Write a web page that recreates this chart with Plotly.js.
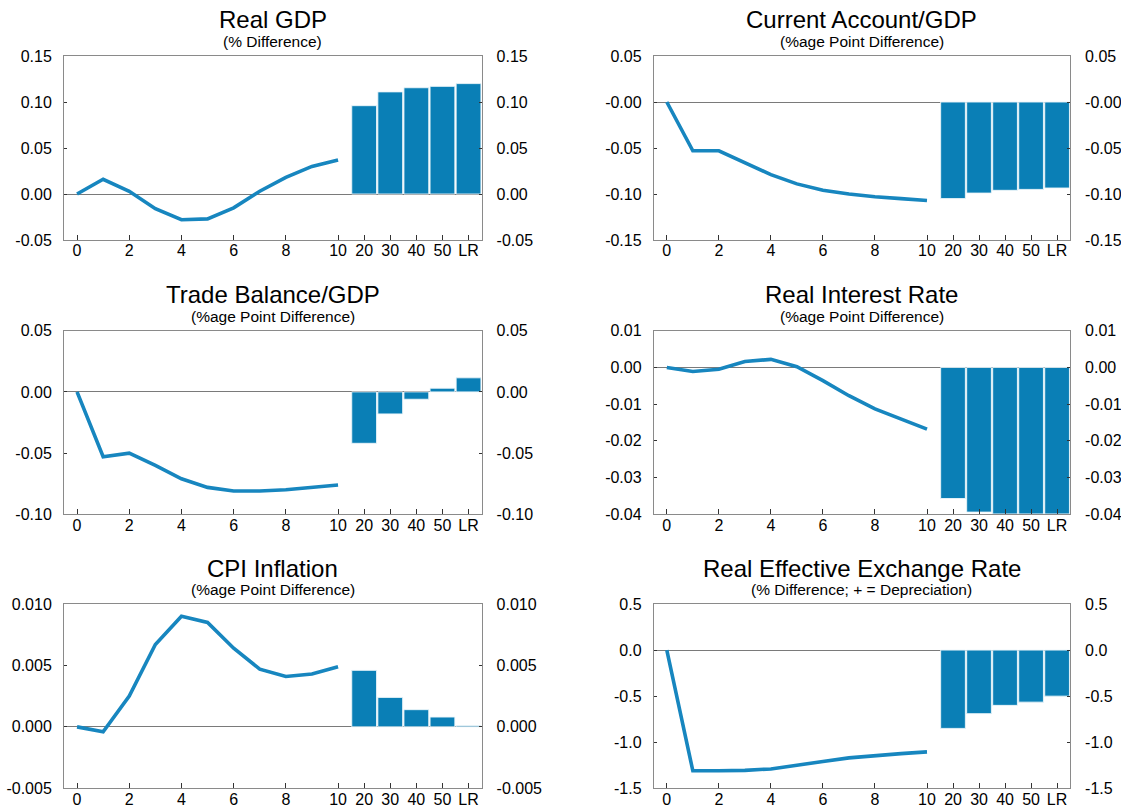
<!DOCTYPE html>
<html>
<head>
<meta charset="utf-8">
<script src="https://cdn.plot.ly/plotly-3.0.1.min.js"></script>
<style>
  html, body { margin: 0; padding: 0; background: #ffffff; }
  #chart { width: 1121px; height: 809px; }
</style>
</head>
<body>
<div id="chart"></div>
<script>
// ---------------- DATA ----------------
const quarters = [0, 1, 2, 3, 4, 5, 6, 7, 8, 9, 10];
const horizonLabels = ['20', '30', '40', '50', 'LR'];
const xTickLabels = ['0', '2', '4', '6', '8', '10', '20', '30', '40', '50', 'LR'];

const panelTitles = ['Real GDP', 'Current Account/GDP', 'Trade Balance/GDP',
                     'Real Interest Rate', 'CPI Inflation', 'Real Effective Exchange Rate'];
const panelSubtitles = ['(% Difference)', '(%age Point Difference)', '(%age Point Difference)',
                        '(%age Point Difference)', '(%age Point Difference)',
                        '(% Difference; + = Depreciation)'];

const realGdpLine = [0.000, 0.016, 0.003, -0.016, -0.028, -0.027, -0.015, 0.003, 0.018, 0.030, 0.037];
const realGdpBars = [0.096, 0.111, 0.1155, 0.117, 0.120];

const currentAccountLine = [0.000, -0.053, -0.053, -0.066, -0.079, -0.089, -0.096, -0.100, -0.103, -0.105, -0.107];
const currentAccountBars = [-0.105, -0.099, -0.096, -0.095, -0.0935];

const tradeBalanceLine = [0.000, -0.053, -0.050, -0.060, -0.071, -0.078, -0.081, -0.081, -0.080, -0.078, -0.076];
const tradeBalanceBars = [-0.042, -0.018, -0.006, 0.003, 0.0115];

const realRateLine = [0.0000, -0.0011, -0.0005, 0.0016, 0.0022, 0.0002, -0.0036, -0.0077, -0.0113, -0.0141, -0.0168];
const realRateBars = [-0.0357, -0.0394, -0.0399, -0.0399, -0.0399];

const cpiLine = [0.0000, -0.0004, 0.0025, 0.0067, 0.0090, 0.0085, 0.0064, 0.0047, 0.0041, 0.0043, 0.0049];
const cpiBars = [0.0046, 0.0024, 0.0014, 0.0008, 0.0001];

const reerLine = [0.00, -1.31, -1.31, -1.305, -1.29, -1.246, -1.21, -1.17, -1.145, -1.124, -1.105];
const reerBars = [-0.85, -0.69, -0.60, -0.565, -0.50];

const realGdpTicks = [-0.05, 0, 0.05, 0.10, 0.15];
const realGdpTickText = ['-0.05', '0.00', '0.05', '0.10', '0.15'];
const currentAccountTicks = [-0.15, -0.10, -0.05, 0, 0.05];
const currentAccountTickText = ['-0.15', '-0.10', '-0.05', '-0.00', '0.05'];
const tradeBalanceTicks = [-0.10, -0.05, 0, 0.05];
const tradeBalanceTickText = ['-0.10', '-0.05', '0.00', '0.05'];
const realRateTicks = [-0.04, -0.03, -0.02, -0.01, 0, 0.01];
const realRateTickText = ['-0.04', '-0.03', '-0.02', '-0.01', '0.00', '0.01'];
const cpiTicks = [-0.005, 0, 0.005, 0.010];
const cpiTickText = ['-0.005', '0.000', '0.005', '0.010'];
const reerTicks = [-1.5, -1.0, -0.5, 0, 0.5];
const reerTickText = ['-1.5', '-1.0', '-0.5', '0.0', '0.5'];

// ---------------- BUILD ----------------
const W = 1121, H = 809;
const FONT = '"Liberation Sans", Arial, Helvetica, sans-serif';
const LINE_COLOR = '#1786bf';
const BAR_COLOR = '#0a7fb6';
const FRAME = '#8a8a8a';

// positions on the category axis: quarters 0..10, then horizons at 11..15
const barPositions = horizonLabels.map((_, i) => quarters.length + i);
const xTickVals = [0, 2, 4, 6, 8, 10].concat(barPositions);

const panels = [
  { line: realGdpLine, bars: realGdpBars, ticks: realGdpTicks, text: realGdpTickText, range: [-0.05, 0.15] },
  { line: currentAccountLine, bars: currentAccountBars, ticks: currentAccountTicks, text: currentAccountTickText, range: [-0.15, 0.05] },
  { line: tradeBalanceLine, bars: tradeBalanceBars, ticks: tradeBalanceTicks, text: tradeBalanceTickText, range: [-0.10, 0.05] },
  { line: realRateLine, bars: realRateBars, ticks: realRateTicks, text: realRateTickText, range: [-0.04, 0.01] },
  { line: cpiLine, bars: cpiBars, ticks: cpiTicks, text: cpiTickText, range: [-0.005, 0.010] },
  { line: reerLine, bars: reerBars, ticks: reerTicks, text: reerTickText, range: [-1.5, 0.5] }
];

// pixel frames of the plot areas
const cols = [[64.0, 481.6], [653.8, 1070.1]];
const rows = [[56.0, 240.0], [330.7, 514.3], [604.0, 788.3]];

const data = [];
const layout = {
  width: W, height: H,
  margin: { l: 0, r: 0, t: 0, b: 0 },
  paper_bgcolor: '#ffffff',
  plot_bgcolor: '#ffffff',
  showlegend: false,
  font: { family: FONT, size: 16, color: '#000000' },
  annotations: []
};

panels.forEach((p, i) => {
  const n = i + 1;
  const r = Math.floor(i / 2), c = i % 2;
  const xd = [cols[c][0] / W, cols[c][1] / W];
  const yd = [1 - rows[r][1] / H, 1 - rows[r][0] / H];
  const xName = 'x' + n, yName = 'y' + n, y2Name = 'y' + (n + 6);

  layout['xaxis' + n] = {
    domain: xd, anchor: yName, range: [-0.5, 15.5],
    tickmode: 'array', tickvals: xTickVals, ticktext: xTickLabels,
    ticks: 'inside', ticklen: 5, tickcolor: '#333333', tickwidth: 1,
    showline: true, linecolor: FRAME, linewidth: 1, mirror: true,
    showgrid: false, zeroline: false, fixedrange: true,
    tickfont: { family: FONT, size: 16, color: '#000000' },
    ticklabelstandoff: -4
  };
  layout['yaxis' + n] = {
    domain: yd, anchor: xName, range: p.range,
    tickmode: 'array', tickvals: p.ticks, ticktext: p.text,
    ticks: 'inside', ticklen: 3, tickcolor: '#333333', tickwidth: 1,
    showline: true, linecolor: FRAME, linewidth: 1, mirror: true,
    showgrid: false, zeroline: true, zerolinecolor: '#7a7a7a', zerolinewidth: 1,
    fixedrange: true,
    tickfont: { family: FONT, size: 16, color: '#000000' },
    ticklabelstandoff: 8
  };
  layout['yaxis' + (n + 6)] = {
    overlaying: yName, side: 'right', anchor: xName, range: p.range,
    tickmode: 'array', tickvals: p.ticks, ticktext: p.text,
    ticks: 'inside', ticklen: 3, tickcolor: '#333333', tickwidth: 1,
    showline: false, showgrid: false, zeroline: false, fixedrange: true,
    tickfont: { family: FONT, size: 16, color: '#000000' },
    ticklabelstandoff: 14
  };

  data.push({
    type: 'scatter', mode: 'lines', x: quarters, y: p.line,
    xaxis: xName, yaxis: yName,
    line: { color: LINE_COLOR, width: 3.6 },
    hoverinfo: 'skip', cliponaxis: true
  });
  data.push({
    type: 'bar', x: barPositions, y: p.bars, width: 0.95,
    xaxis: xName, yaxis: y2Name,
    marker: { color: BAR_COLOR, line: { color: 'rgba(235,245,250,0.9)', width: 1 } },
    hoverinfo: 'skip'
  });

  const cx = (xd[0] + xd[1]) / 2;
  const top = rows[r][0];
  layout.annotations.push({
    xref: 'paper', yref: 'paper', x: cx, y: 1 - (top - 36) / H,
    xanchor: 'center', yanchor: 'middle', showarrow: false,
    text: panelTitles[i], font: { family: FONT, size: 24, color: '#000000' }
  });
  layout.annotations.push({
    xref: 'paper', yref: 'paper', x: cx, y: 1 - (top - 14.5) / H,
    xanchor: 'center', yanchor: 'middle', showarrow: false,
    text: panelSubtitles[i], font: { family: FONT, size: 15.5, color: '#000000' }
  });
});

Plotly.newPlot('chart', data, layout, { displayModeBar: false, staticPlot: true });
</script>
</body>
</html>
